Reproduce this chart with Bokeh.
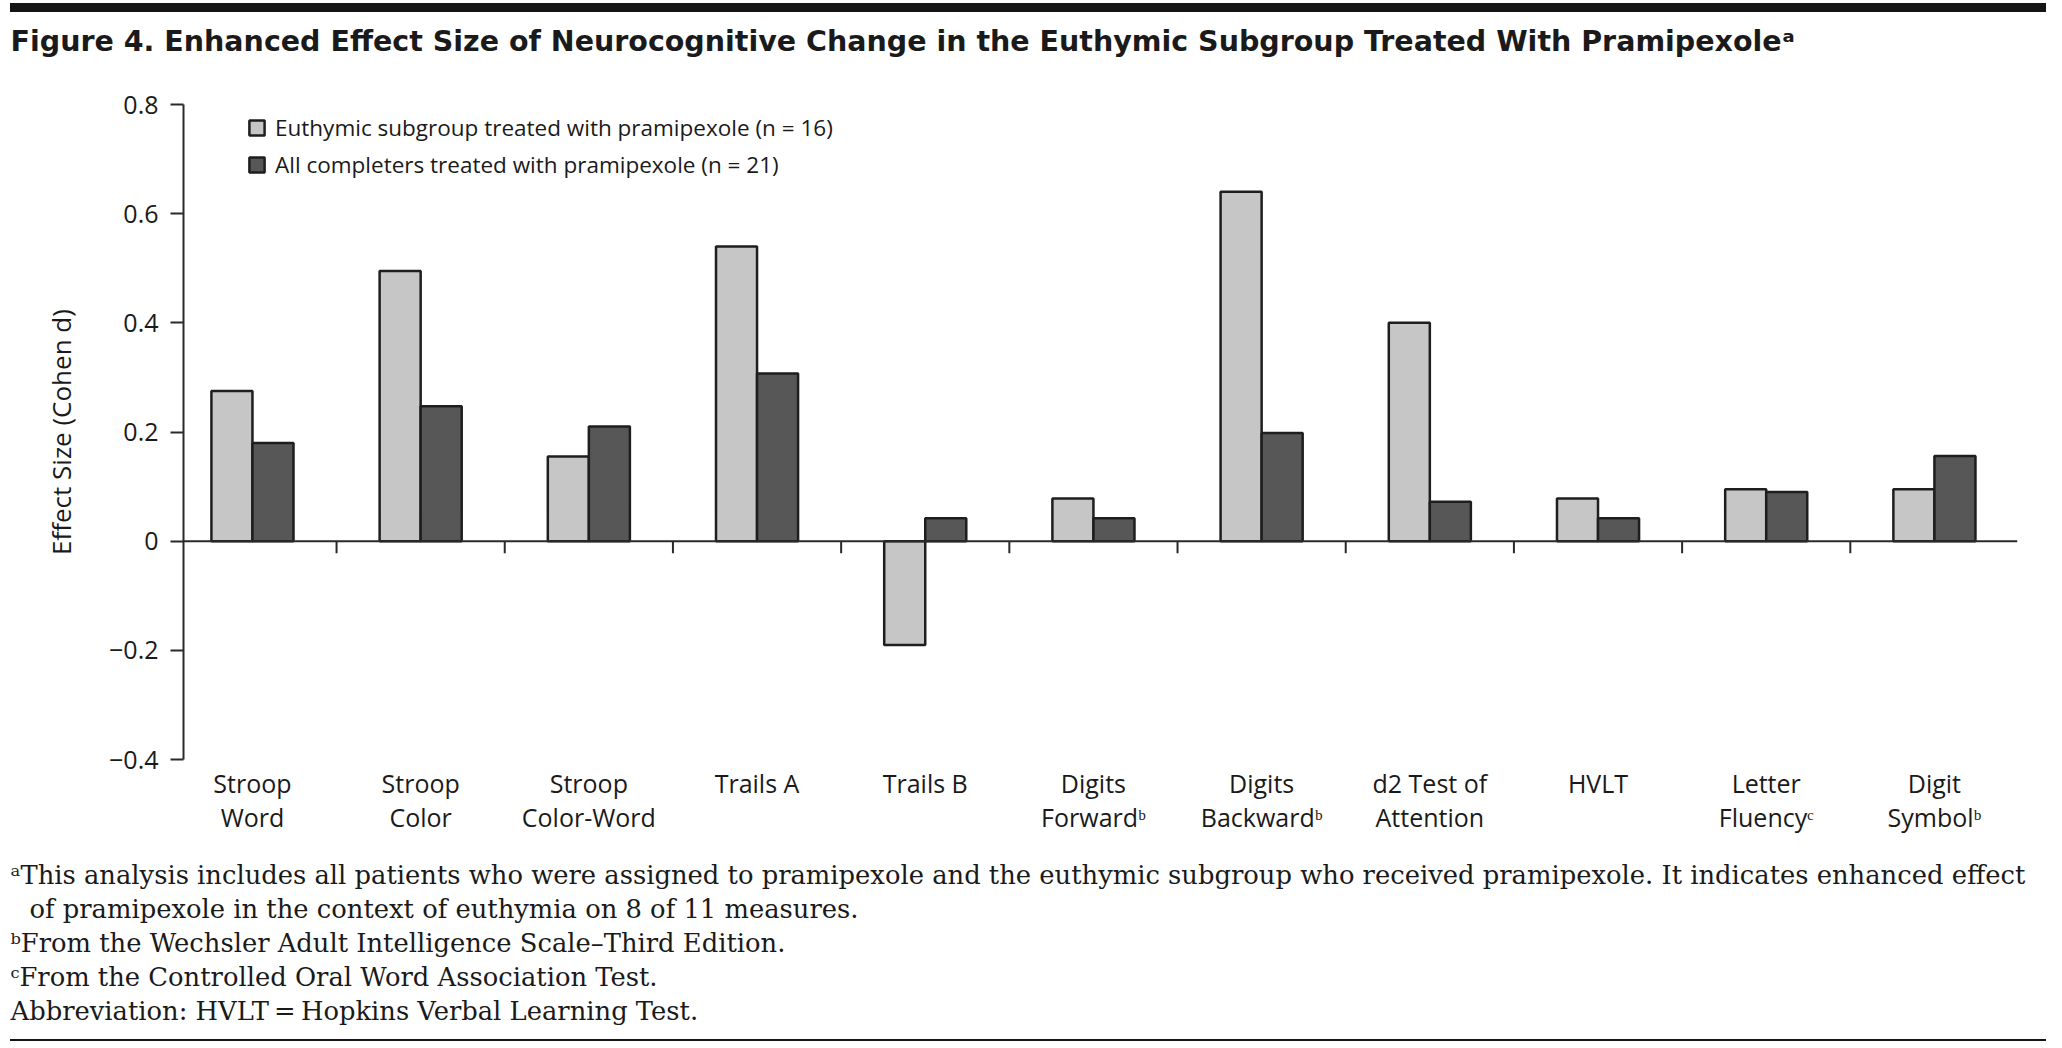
import numpy as np
from bokeh.plotting import figure
from bokeh.layouts import column
from bokeh.models import (Range1d, FixedTicker, Legend, LegendItem, Title, Span,
                          ColumnDataSource, Div)
from bokeh.transform import dodge
from bokeh.embed import file_html
from bokeh.resources import INLINE

# ---------------- data ----------------
categories = ["Stroop\nWord", "Stroop\nColor", "Stroop\nColor-Word", "Trails A",
              "Trails B", "Digits\nForward\u1d47", "Digits\nBackward\u1d47",
              "d2 Test of\nAttention", "HVLT", "Letter\nFluency\u1d9c",
              "Digit\nSymbol\u1d47"]
euthymic = [0.275, 0.495, 0.155, 0.54, -0.19, 0.078, 0.64, 0.40, 0.078, 0.095, 0.095]
all_completers = [0.18, 0.247, 0.21, 0.307, 0.042, 0.042, 0.198, 0.072, 0.042, 0.09, 0.156]
series_names = ["Euthymic subgroup treated with pramipexole (n = 16)",
                "All completers treated with pramipexole (n = 21)"]
y_ticks = [-0.4, -0.2, 0, 0.2, 0.4, 0.6, 0.8]
y_tick_labels = ["\u22120.4", "\u22120.2", "0", "0.2", "0.4", "0.6", "0.8"]
title_text = ("Figure 4. Enhanced Effect Size of Neurocognitive Change in the "
              "Euthymic Subgroup Treated With Pramipexole\u1d43")
footnote_lines = [
    "\u1d43This analysis includes all patients who were assigned to pramipexole and the euthymic subgroup who received pramipexole. It indicates enhanced effect",
    "of pramipexole in the context of euthymia on 8 of 11 measures.",
    "\u1d47From the Wechsler Adult Intelligence Scale\u2013Third Edition.",
    "\u1d9cFrom the Controlled Oral Word Association Test.",
    "Abbreviation: HVLT\u2009=\u2009Hopkins Verbal Learning Test.",
]

# ---------------- styling ----------------
W = 2046
SANS = "Open Sans"
SERIF = "DejaVu Serif"
INK = "#1a1a1a"
LIGHT = "#c6c6c6"
DARK = "#575757"
RULE = "#151515"
BAR_W = 0.244
FRAME_L, FRAME_R, FRAME_T, FRAME_B = 183, 29, 92, 270
MAIN_H = 1017


def rule_div(h, pad_top, thick):
    return Div(width=W, height=h, margin=0,
               text=(f'<div style="margin:{pad_top}px 0 0 10px;width:{W - 10}px;'
                     f'height:{thick}px;background:{RULE}"></div>'))


idx = np.arange(len(categories))
src = ColumnDataSource(dict(x=idx, e=euthymic, a=all_completers))

p = figure(width=W, height=MAIN_H, output_backend="svg", toolbar_location=None,
           x_range=Range1d(-0.41, 10.494), y_range=Range1d(-0.4, 0.8),
           min_border_left=FRAME_L, min_border_right=FRAME_R,
           min_border_top=FRAME_T, min_border_bottom=FRAME_B, margin=0)
p.outline_line_color = None
p.xgrid.visible = False
p.ygrid.visible = False
p.background_fill_color = "white"
p.border_fill_color = "white"

r1 = p.vbar(x=dodge("x", -BAR_W / 2, range=p.x_range), top="e", bottom=0, width=BAR_W,
            source=src, fill_color=LIGHT, line_color="#1e1e1e", line_width=2.5)
r2 = p.vbar(x=dodge("x", BAR_W / 2, range=p.x_range), top="a", bottom=0, width=BAR_W,
            source=src, fill_color=DARK, line_color="#1e1e1e", line_width=2.5)

# zero line and divider ticks
p.add_layout(Span(location=0, dimension="width", line_color="#2a2a2a", line_width=2))
div_x = idx[:-1] + 0.5
p.segment(x0=div_x, y0=0, x1=div_x, y1=-0.022, line_color="#2a2a2a", line_width=2)

# y axis
ya = p.yaxis[0]
ya.ticker = FixedTicker(ticks=y_ticks)
ya.major_label_overrides = {t: l for t, l in zip(y_ticks, y_tick_labels)}
ya.axis_line_color = "#2a2a2a"
ya.axis_line_width = 2
ya.major_tick_line_color = "#2a2a2a"
ya.major_tick_line_width = 2
ya.major_tick_out = 13
ya.major_tick_in = 0
ya.minor_tick_line_color = None
ya.major_label_text_font = SANS
ya.major_label_text_font_size = "25px"
ya.major_label_text_color = INK
ya.major_label_standoff = 12
ya.axis_label = "Effect Size (Cohen d)"
ya.axis_label_text_font = SANS
ya.axis_label_text_font_style = "normal"
ya.axis_label_text_font_size = "26px"
ya.axis_label_text_color = INK
ya.axis_label_standoff = 27

# x axis (category labels)
xa = p.xaxis[0]
xa.ticker = FixedTicker(ticks=list(idx))
xa.major_label_overrides = {int(i): c for i, c in zip(idx, categories)}
xa.axis_line_color = None
xa.major_tick_line_color = None
xa.minor_tick_line_color = None
xa.major_label_text_font = SANS
xa.major_label_text_font_size = "25px"
xa.major_label_text_color = INK
xa.major_label_text_line_height = 1.0
xa.major_label_standoff = 0

# legend
legend = Legend(items=[LegendItem(label=series_names[0], renderers=[r1]),
                       LegendItem(label=series_names[1], renderers=[r2])],
                location=(64, 579), glyph_width=19, glyph_height=19,
                label_height=30, spacing=6, padding=0, margin=0,
                label_standoff=9, border_line_color=None,
                background_fill_alpha=0, label_text_font=SANS,
                label_text_font_size="22.5px", label_text_color=INK)
p.add_layout(legend)

# title (a blank spacer panel keeps it near the top rule)
p.add_layout(Title(text=" ", text_font="DejaVu Sans", text_font_size="10px",
                   standoff=33.6), "above")
p.add_layout(Title(text=title_text, align="left", offset=10 - FRAME_L, standoff=0,
                   text_font="DejaVu Sans", text_font_style="bold",
                   text_font_size="28.5px", text_color=INK), "above")

# footnotes (blank spacer first)
p.add_layout(Title(text=" ", text_font="DejaVu Sans", text_font_size="10px",
                   standoff=7.7), "below")
foot_offsets = [10, 29, 10, 10, 10]
for t, xo in zip(footnote_lines, foot_offsets):
    p.add_layout(Title(text=t, align="left", offset=xo - FRAME_L, standoff=2.4,
                       text_font=SERIF, text_font_style="normal", text_font_size="25.8px",
                       text_color=INK), "below")

layout = column(rule_div(12, 3, 9), p, rule_div(3, 1, 2), spacing=0)
open("out.html", "w").write(file_html(layout, INLINE))
